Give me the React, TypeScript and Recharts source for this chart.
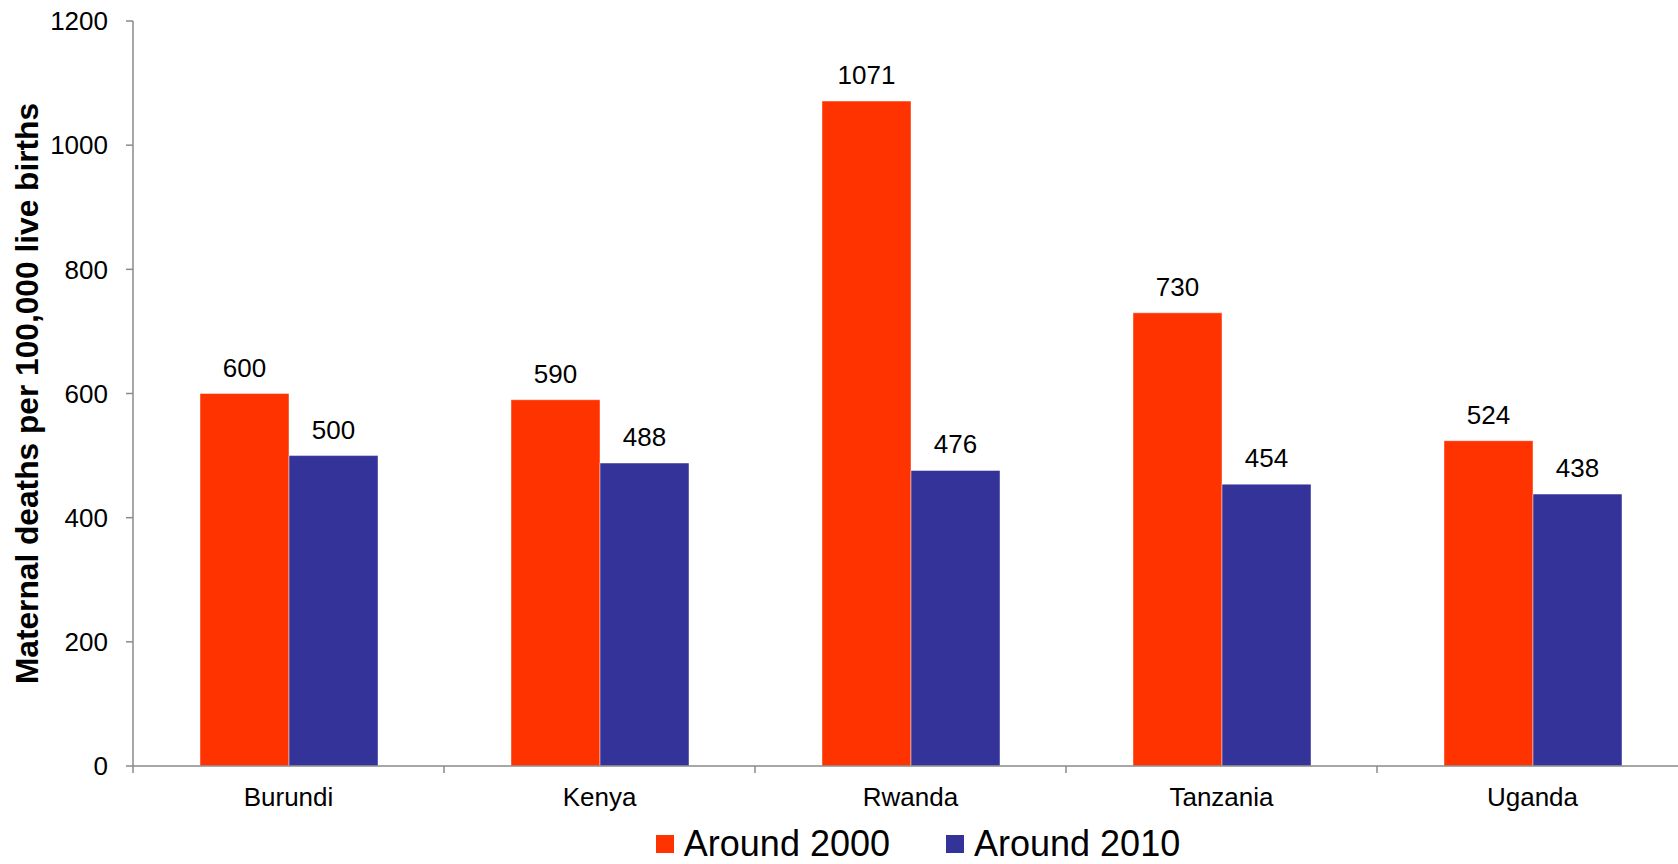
import React from "react";
import { BarChart, Bar, XAxis, YAxis, Legend, LabelList } from "recharts";

// ---------------------------------------------------------------------------
// Data
// ---------------------------------------------------------------------------

const COUNTRIES = ["Burundi", "Kenya", "Rwanda", "Tanzania", "Uganda"];
const AROUND_2000 = [600, 590, 1071, 730, 524];
const AROUND_2010 = [500, 488, 476, 454, 438];
const Y_TICKS = [0, 200, 400, 600, 800, 1000, 1200];

const SERIES = [
  { key: "y2000", name: "Around 2000", color: "#FF3300" },
  { key: "y2010", name: "Around 2010", color: "#333399" },
];

const Y_TITLE = "Maternal deaths per 100,000 live births";

// ---------------------------------------------------------------------------
// Layout
// ---------------------------------------------------------------------------

const FONT = '"Liberation Sans", Arial, Helvetica, sans-serif';
const AXIS_COLOR = "#8a8a8a";
const CHART_W = 1700;
const CHART_H = 864;
const MARGIN = { top: 21, right: 12, left: 0, bottom: 0 };
const Y_AXIS_W = 133;
const BAND = (CHART_W - MARGIN.left - MARGIN.right - Y_AXIS_W) / COUNTRIES.length;

const rows = COUNTRIES.map((country, i) => ({
  country,
  y2000: AROUND_2000[i],
  y2010: AROUND_2010[i],
}));

// category label plus a tick mark on the left boundary of each band
function CategoryTick(props: any) {
  const { x, y, payload } = props;
  const edge = x - BAND / 2;
  return (
    <g>
      <line x1={edge} x2={edge} y1={y} y2={y + 7} stroke={AXIS_COLOR} strokeWidth={1.5} />
      <text
        x={x}
        y={y + 22}
        dy="0.71em"
        textAnchor="middle"
        fontFamily={FONT}
        fontSize={26}
        fill="#000"
      >
        {payload.value}
      </text>
    </g>
  );
}

function YTitle(props: any) {
  const { x, y, height } = props.viewBox;
  const cx = x + 27;
  const cy = y + height / 2;
  return (
    <text
      x={cx}
      y={cy}
      transform={`rotate(-90, ${cx}, ${cy})`}
      textAnchor="middle"
      dominantBaseline="central"
      fontFamily={FONT}
      fontWeight="bold"
      fontSize={31.7}
      fill="#000"
    >
      {Y_TITLE}
    </text>
  );
}

function LegendContent() {
  return (
    <div
      style={{
        display: "flex",
        justifyContent: "center",
        alignItems: "center",
        height: 40,
        gap: 56,
        fontFamily: FONT,
        fontSize: 36,
        color: "#000",
      }}
    >
      {SERIES.map((s) => (
        <div key={s.key} style={{ display: "flex", alignItems: "center", gap: 10 }}>
          <span style={{ width: 18, height: 18, background: s.color, display: "inline-block" }} />
          <span style={{ lineHeight: "40px" }}>{s.name}</span>
        </div>
      ))}
    </div>
  );
}

export default function App() {
  return (
    <div
      style={{
        position: "fixed",
        left: 0,
        top: 0,
        width: 1678,
        height: 864,
        overflow: "hidden",
        background: "#fff",
      }}
    >
      <BarChart
        width={CHART_W}
        height={CHART_H}
        data={rows}
        margin={MARGIN}
        barCategoryGap={67}
        barGap={0}
      >
        <XAxis
          dataKey="country"
          height={58}
          stroke={AXIS_COLOR}
          strokeWidth={1.5}
          tickLine={false}
          tickSize={0}
          tickMargin={0}
          interval={0}
          tick={(p: any) => <CategoryTick {...p} />}
        />
        <YAxis
          width={Y_AXIS_W}
          domain={[0, 1200]}
          ticks={Y_TICKS}
          stroke={AXIS_COLOR}
          strokeWidth={1.5}
          tickSize={7}
          tickMargin={18}
          tick={{ fill: "#000", fontSize: 26, fontFamily: FONT }}
          label={(p: any) => <YTitle {...p} />}
        />
        <Legend
          verticalAlign="bottom"
          content={() => <LegendContent />}
          wrapperStyle={{ left: 0, width: 1836 }}
        />
        {SERIES.map((s) => (
          <Bar
            key={s.key}
            dataKey={s.key}
            name={s.name}
            fill={s.color}
            stroke="#ffffff"
            strokeOpacity={0.45}
            strokeWidth={1}
            isAnimationActive={false}
          >
            <LabelList
              dataKey={s.key}
              position="top"
              offset={17}
              fill="#000"
              fontSize={26}
              fontFamily={FONT}
            />
          </Bar>
        ))}
      </BarChart>
    </div>
  );
}
